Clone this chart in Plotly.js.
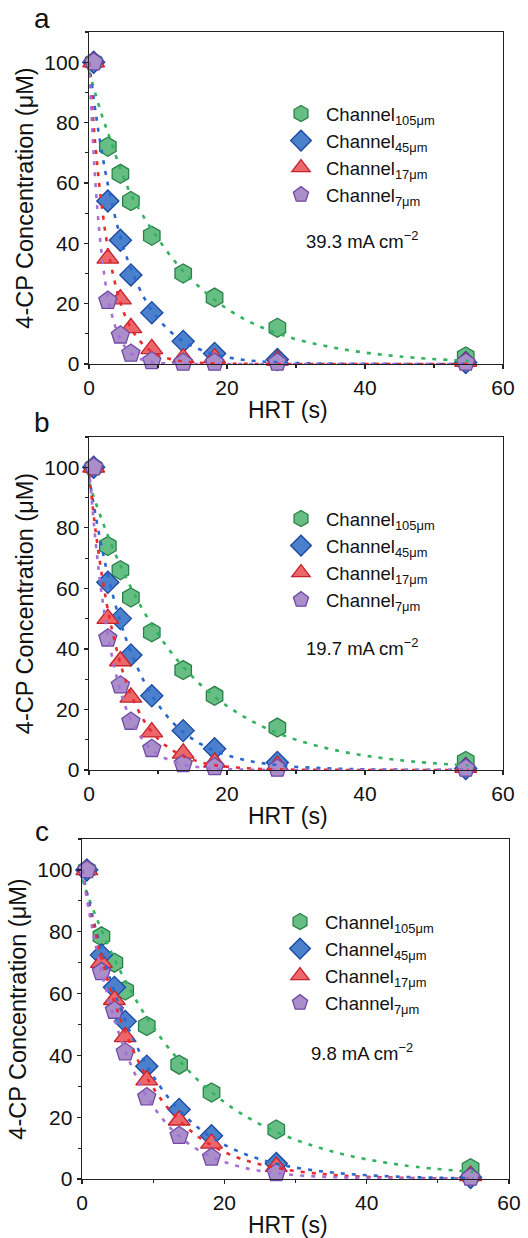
<!DOCTYPE html>
<html>
<head>
<meta charset="utf-8">
<script src="https://cdn.plot.ly/plotly-3.0.1.min.js"></script>
<style>html,body{margin:0;padding:0;background:#fff;}#chart{width:528px;height:1238px;}</style>
</head>
<body>
<div id="chart"></div>
<script>
// ---------- data ----------
const hrt = [0.68, 2.73, 4.55, 6.07, 9.1, 13.65, 18.2, 27.3, 54.6];
const seriesNames = ['Channel<sub>105μm</sub>', 'Channel<sub>45μm</sub>', 'Channel<sub>17μm</sub>', 'Channel<sub>7μm</sub>'];
const panelLabels = ['a', 'b', 'c'];
const currentLabels = ['39.3 mA cm<sup>−2</sup>', '19.7 mA cm<sup>−2</sup>', '9.8 mA cm<sup>−2</sup>'];

// panel a (39.3 mA cm-2)
const a105 = [100, 72, 63, 54, 42.5, 30, 22, 12, 2.5];
const a45  = [100, 54, 41, 29.5, 17, 7.5, 3.5, 1.5, 0.5];
const a17  = [100, 35, 21.5, 12, 5, 2, 2, 1.2, 0.8];
const a7   = [100, 21, 9.5, 3.5, 1, 0.5, 0.5, 0.5, 0.5];
// panel b (19.7 mA cm-2)
const b105 = [100, 74, 66, 57, 45.5, 33, 24.5, 14, 3];
const b45  = [100, 62, 50, 38, 24.5, 13, 7, 2.5, 0.5];
const b17  = [100, 50, 36, 24, 12.5, 5.5, 2.5, 1.5, 0.8];
const b7   = [100, 43.5, 28, 16, 7, 2, 1, 0.5, 0.5];
// panel c (9.8 mA cm-2)
const c105 = [100, 78.5, 70, 61, 49.5, 37, 28, 16, 3.5];
const c45  = [100, 72.5, 62, 51, 36.5, 22.5, 14, 5, 0.5];
const c17  = [100, 70, 58, 46, 32, 19, 11.5, 4, 1];
const c7   = [100, 67, 54.5, 41, 26.5, 14, 7, 2, 0.5];

// fitted curves (dotted lines)
const fitHrt = [0, 1, 2, 3, 4.5, 6, 8, 10, 13, 17, 22, 28, 36, 45, 55];
const aFit105 = [97, 89, 81.5, 75, 65, 56.5, 48.5, 41.5, 32.5, 23.5, 15.5, 9.6, 5.2, 2.5, 1.0];
const aFit45  = [100, 82.7, 68.4, 56.6, 42.5, 32, 21.9, 15, 8.5, 4, 1.5, 0.5, 0.1, 0.02, 0];
const aFit17  = [100, 70.5, 49.7, 35, 20.7, 12.2, 6.1, 3, 1.1, 0.3, 0.05, 0, 0, 0, 0];
const aFit7   = [100, 57.7, 33.3, 19.2, 8.4, 3.7, 1.2, 0.4, 0.08, 0, 0, 0, 0, 0, 0];
const bFit105 = [95, 88.1, 81.8, 75.9, 67.8, 60.6, 52.1, 44.9, 35.8, 26.5, 18.2, 11.6, 6.4, 3.25, 1.5];
const bFit45  = [97, 83.5, 71.9, 61.8, 49.4, 39.4, 29.2, 21.6, 13.8, 7.6, 3.6, 1.45, 0.44, 0.11, 0.03];
const bFit17  = [98, 78.3, 62.5, 49.9, 35.6, 25.4, 16.2, 10.3, 5.3, 2.1, 0.7, 0.18, 0.03, 0, 0];
const bFit7   = [100, 74.5, 55.4, 41.3, 26.5, 17, 9.4, 5.2, 2.2, 0.66, 0.15, 0.03, 0, 0, 0];
const cFit105 = [97, 90.6, 84.7, 79.1, 71.4, 64.5, 56.3, 49.1, 40.1, 30.5, 21.7, 14.5, 8.4, 4.5, 2.3];
const cFit45  = [100, 89.6, 80.3, 71.9, 61, 51.7, 41.5, 33.3, 23.9, 15.4, 8.9, 4.6, 1.9, 0.7, 0.24];
const cFit17  = [100, 88.5, 78.3, 69.3, 57.7, 48.1, 37.7, 29.5, 20.5, 12.6, 6.8, 3.3, 1.2, 0.4, 0.1];
const cFit7   = [100, 86.5, 74.8, 64.7, 52.1, 41.9, 31.3, 23.5, 15.2, 8.5, 4.1, 1.7, 0.54, 0.15, 0.03];

// ---------- styling ----------
const FONT = 'Arial, "Liberation Sans", sans-serif';
const symbols = ['hexagon', 'diamond', 'triangle-up', 'pentagon'];
const sizes = [19, 17, 19, 19];
const fills = ['rgb(102,190,132)', 'rgb(74,128,204)', 'rgb(236,102,106)', 'rgb(170,142,202)'];
const edges = ['rgb(40,128,72)', 'rgb(26,72,160)', 'rgb(196,34,44)', 'rgb(112,74,164)'];
const lineCols = ['rgb(52,178,96)', 'rgb(40,104,208)', 'rgb(232,44,44)', 'rgb(164,112,214)'];

const panels = [
  {data: [a105, a45, a17, a7], fits: [aFit105, aFit45, aFit17, aFit7]},
  {data: [b105, b45, b17, b7], fits: [bFit105, bFit45, bFit17, bFit7]},
  {data: [c105, c45, c17, c7], fits: [cFit105, cFit45, cFit17, cFit7]}
];

const H = 1238, W = 528;
const px = v => v / W;
const py = v => 1 - v / H;
// plot-area boxes in pixels [left, right, top, bottom]
const boxes = [[89, 503, 32, 364], [89, 503, 437, 770], [82, 509, 839, 1179]];
const legendTop = [95, 500, 903];
const legendLeft = [276, 276, 275];

const traces = [];
panels.forEach((p, i) => {
  const sfx = i === 0 ? '' : String(i + 1);
  const lg = 'legend' + sfx;
  p.data.forEach((vals, j) => {
    traces.push({
      x: hrt, y: vals, type: 'scatter', mode: 'markers',
      name: seriesNames[j], xaxis: 'x' + sfx, yaxis: 'y' + sfx, legend: lg,
      marker: {symbol: symbols[j], size: sizes[j], color: fills[j], line: {color: edges[j], width: 1.3}},
      cliponaxis: false
    });
  });
  p.fits.forEach((vals, j) => {
    traces.push({
      x: fitHrt, y: vals, type: 'scatter', mode: 'lines', showlegend: false,
      xaxis: 'x' + sfx, yaxis: 'y' + sfx, hoverinfo: 'skip',
      line: {color: lineCols[j], width: 2.6, dash: '4px,7px', shape: 'spline', smoothing: 1}
    });
  });
});

const layout = {
  width: W, height: H,
  margin: {l: 0, r: 0, t: 0, b: 0},
  paper_bgcolor: '#fff', plot_bgcolor: '#fff',
  font: {family: FONT, color: '#111'},
  showlegend: true,
  annotations: []
};

boxes.forEach((b, i) => {
  const sfx = i === 0 ? '' : String(i + 1);
  const axCommon = {
    showgrid: false, zeroline: false, showline: true, linecolor: '#222', linewidth: 1.4,
    mirror: true, ticks: 'outside', ticklen: 4, tickwidth: 1.2, tickcolor: '#222',
    tickfont: {family: FONT, size: 21, color: '#111'}, automargin: false,
    minor: {dtick: 10, ticks: 'outside', ticklen: 3, tickwidth: 1.1, tickcolor: '#222'}
  };
  layout['xaxis' + sfx] = Object.assign({}, axCommon, {
    domain: [px(b[0]), px(b[1])], range: [0, 60], dtick: 20, tick0: 0,
    anchor: 'y' + sfx
  });
  layout['yaxis' + sfx] = Object.assign({}, axCommon, {
    domain: [py(b[3]), py(b[2])], range: [0, 110], dtick: 20, tick0: 0,
    anchor: 'x' + sfx,
    title: {text: '4-CP Concentration (μM)', font: {family: FONT, size: 23.5, color: '#111'}, standoff: 4}
  });
  layout['legend' + sfx] = {
    x: px(legendLeft[i]), y: py(legendTop[i]), xanchor: 'left', yanchor: 'top',
    bgcolor: 'rgba(0,0,0,0)', borderwidth: 0,
    font: {family: FONT, size: 18.5, color: '#111'},
    itemwidth: 40
  };
  // x-axis title
  layout.annotations.push({
    xref: 'paper', yref: 'paper', x: px(288), y: py(b[3] + 46), xanchor: 'center', yanchor: 'middle',
    text: 'HRT (s)', showarrow: false, font: {family: FONT, size: 23, color: '#111'}
  });
  // panel letter
  layout.annotations.push({
    xref: 'paper', yref: 'paper', x: px(42), y: py([18, 423, 831][i]), xanchor: 'center', yanchor: 'middle',
    text: panelLabels[i], showarrow: false, font: {family: FONT, size: 28, color: '#111'}
  });
  // current density label
  layout.annotations.push({
    xref: 'paper', yref: 'paper', x: px(362), y: py([240, 647, 1052][i]), xanchor: 'center', yanchor: 'middle',
    text: currentLabels[i], showarrow: false, font: {family: FONT, size: 18.5, color: '#111'}
  });
});

Plotly.newPlot('chart', traces, layout, {staticPlot: true, displayModeBar: false});
</script>
</body>
</html>
